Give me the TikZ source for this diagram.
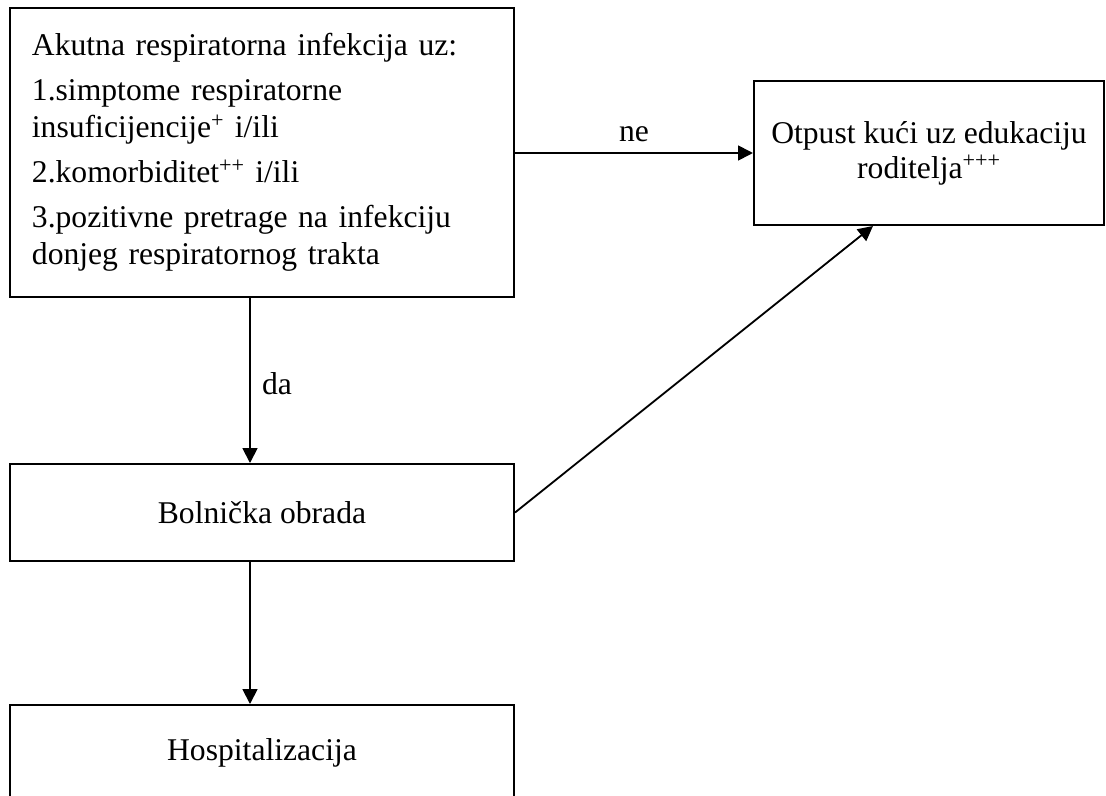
\documentclass[tikz,border=0pt]{standalone}
\usepackage{fontspec}
\setmainfont{Liberation Serif}
\usepackage{tikz}
\usetikzlibrary{arrows.meta,positioning,calc}

\begin{document}
\begin{tikzpicture}[
    x=0.025cm, y=-0.025cm,
    box/.style={rectangle, draw=black, line width=1.4pt, minimum width=12.6cm, font=\fontsize{22.5}{26.5}\selectfont},
    flow/.style={-{Triangle[length=0.37cm,width=0.37cm]}, line width=1.3pt},
    lbl/.style={font=\fontsize{22.5}{26.5}\selectfont, inner sep=0pt},
]
\useasboundingbox (0,0) rectangle (1106,796);

% Boxes
\node[box, minimum height=7.225cm, text width=11.5cm, align=left] (akutna) at (262,152.5) {Akutna respiratorna infekcija uz:\\[5.5pt]
1.simptome respiratorne\\
insuficijencije\textsuperscript{+} i/ili\\[5.5pt]
2.komorbiditet\textsuperscript{++} i/ili\\[5.5pt]
3.pozitivne pretrage na infekciju\\
donjeg respiratornog trakta};
\node[box, minimum width=8.75cm, minimum height=3.6cm, align=center, font=\fontsize{22.5}{25}\selectfont] (otpust) at (929,153) {Otpust kući uz edukaciju\\roditelja\textsuperscript{+++}};
\node[box, minimum height=2.425cm] (obrada) at (262,512.5) {Bolnička obrada};
\node[box, minimum height=2.4cm] (hosp) at (262,753) {Hospitalizacija};

% Connections
\draw[flow] (akutna.east |- otpust.west) -- (otpust.west) node[lbl, midway, above=7pt] (ne) {ne};
\draw[flow] ([xshift=-0.3cm]akutna.south) -- ([xshift=-0.3cm]obrada.north) node[lbl, pos=0.52, right=8pt] (da) {da};
\draw[flow] (obrada.east) -- ([xshift=-1.4cm]otpust.south);
\draw[flow] ([xshift=-0.3cm]obrada.south) -- ([xshift=-0.3cm]hosp.north);

\end{tikzpicture}
\end{document}
